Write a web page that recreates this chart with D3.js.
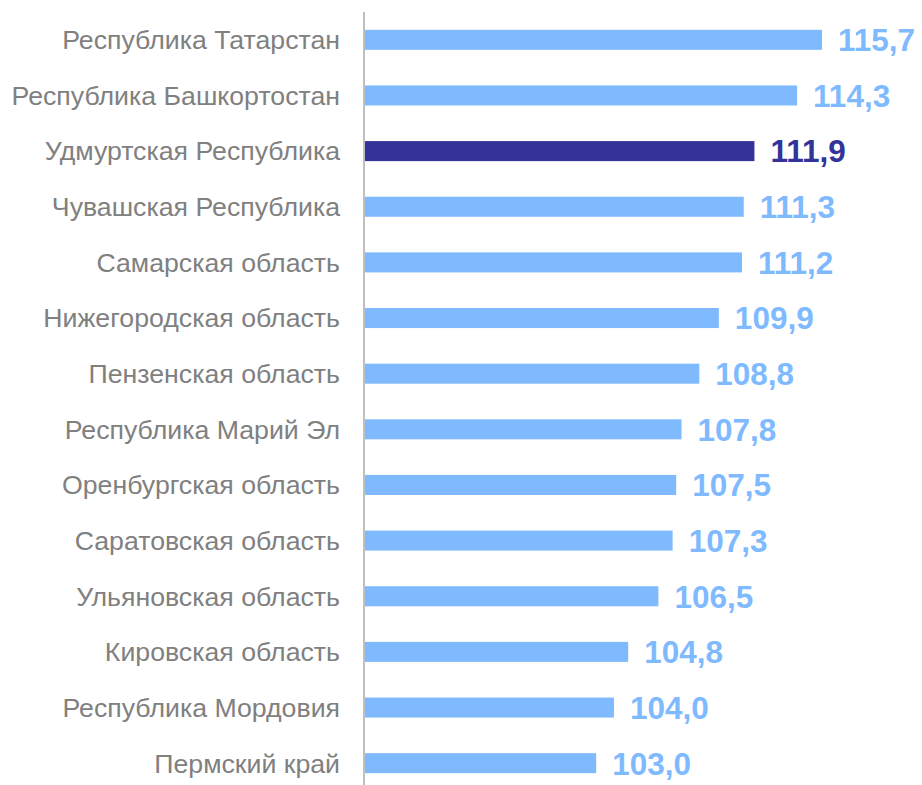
<!DOCTYPE html>
<html><head><meta charset="utf-8">
<script src="https://cdn.jsdelivr.net/npm/d3@7"></script>
<style>body{margin:0;background:#fff}</style>
</head><body>
<svg id="c" width="922" height="785"></svg>
<script>
const categories = ["Республика Татарстан","Республика Башкортостан","Удмуртская Республика","Чувашская Республика","Самарская область","Нижегородская область","Пензенская область","Республика Марий Эл","Оренбургская область","Саратовская область","Ульяновская область","Кировская область","Республика Мордовия","Пермский край"];
const values = [115.7,114.3,111.9,111.3,111.2,109.9,108.8,107.8,107.5,107.3,106.5,104.8,104.0,103.0];
const highlight = "Удмуртская Республика";

const svg = d3.select("#c");
const x0 = 365;
const x = d3.scaleLinear().domain([90, 115.7]).range([x0, 822]);
const y = d3.scaleBand().domain(categories).range([12, 791]).paddingInner(0.64).paddingOuter(0.32);

const fmt = v => v.toFixed(1).replace(".", ",");

svg.selectAll("rect.bar").data(categories).join("rect")
  .attr("x", x0).attr("y", d => y(d))
  .attr("width", (d,i) => x(values[i]) - x0)
  .attr("height", y.bandwidth())
  .attr("fill", d => d === highlight ? "#333399" : "#7fbaff");

svg.append("line").attr("x1", 364).attr("x2", 364).attr("y1", 12).attr("y2", 785)
  .attr("stroke", "#bfbfbf").attr("stroke-width", 2);

svg.selectAll("text.cat").data(categories).join("text")
  .attr("x", 340).attr("y", d => y(d) + y.bandwidth()/2)
  .attr("dy", "0.35em").attr("text-anchor", "end")
  .attr("font-family", "Liberation Sans, Arial, sans-serif").attr("font-size", 26.7)
  .attr("fill", "#808080").text(d => d);

svg.selectAll("text.val").data(categories).join("text")
  .attr("x", (d,i) => x(values[i]) + 16).attr("y", d => y(d) + y.bandwidth()/2)
  .attr("dy", "0.36em")
  .attr("font-family", "Liberation Sans, Arial, sans-serif").attr("font-size", 31.5).attr("font-weight", "bold")
  .attr("fill", d => d === highlight ? "#333399" : "#7fbaff")
  .text((d,i) => fmt(values[i]));
</script>
</body></html>
